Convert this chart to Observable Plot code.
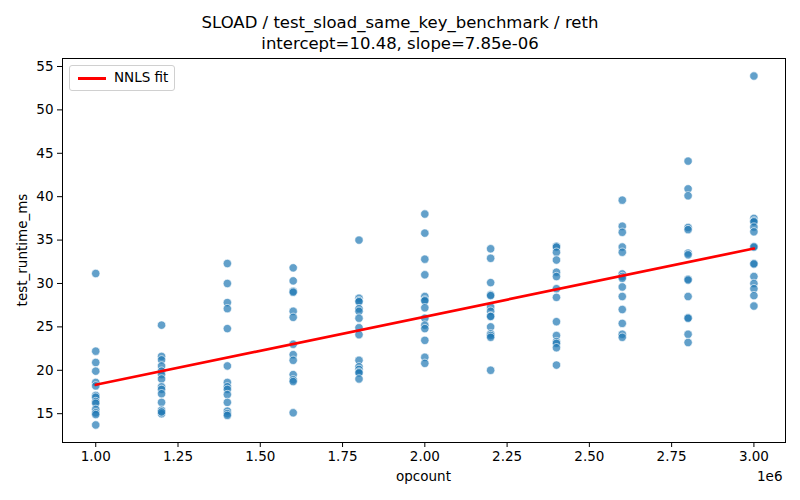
<!DOCTYPE html>
<html><head><meta charset="utf-8">
<script src="https://cdn.jsdelivr.net/npm/d3@7"></script>
<script src="https://cdn.jsdelivr.net/npm/@observablehq/plot@0.6"></script>
<style>
body{margin:0;background:#fff;font-family:"DejaVu Sans",sans-serif;}
#wrap{position:relative;width:800px;height:500px;}
#title{height:50px;text-align:center;font-size:16.5px;line-height:21px;padding-top:12px;box-sizing:border-box;color:#000;}
#legend{position:absolute;left:69px;top:65px;width:104px;height:24px;border:1px solid #d0d0d0;border-radius:3px;background:rgba(255,255,255,0.8);font-size:13.5px;}
#legend .ln{position:absolute;left:8px;top:11px;width:28px;height:2.7px;background:red;}
#legend .tx{position:absolute;left:44px;top:3px;}
#offset{position:absolute;left:757px;top:468px;font-size:13.5px;}
#xlab{position:absolute;left:0;width:847px;text-align:center;top:468px;font-size:13.5px;}
#ylab{position:absolute;left:22px;top:250px;font-size:13.5px;transform:translate(-50%,-50%) rotate(-90deg);white-space:nowrap;}
</style></head>
<body><div id="wrap">
<div id="title"><div>SLOAD / test_sload_same_key_benchmark / reth</div><div>intercept=10.48, slope=7.85e-06</div></div>
<div id="chart"></div>
<div id="legend"><div class="ln"></div><div class="tx">NNLS fit</div></div>
<div id="offset">1e6</div>
<div id="xlab">opcount</div>
<div id="ylab">test_runtime_ms</div>
</div>
<script>
const opcounts = [1000000,1200000,1400000,1600000,1800000,2000000,2200000,2400000,2600000,2800000,3000000];
const runtimeByOpcount = [
  [31.15,22.2,20.9,19.9,18.6,18.2,17.1,16.9,16.4,16.2,15.5,15.1,14.9,13.7],
  [25.2,21.6,21.2,20.5,19.9,19.5,19.0,18.1,17.8,17.3,16.3,15.4,15.0,15.2],
  [32.3,30.0,27.8,27.1,24.8,20.5,18.6,18.1,17.8,17.2,16.3,15.3,15.0,14.8],
  [31.8,30.3,29.1,29.0,26.8,26.1,23.0,21.8,21.15,19.5,18.9,18.7,15.1],
  [35.0,28.3,28.0,27.9,27.1,26.8,26.0,24.9,24.1,21.15,20.4,20.1,19.8,19.7,19.0],
  [38.0,35.8,32.8,31.0,28.5,28.1,28.0,27.2,26.0,25.2,24.8,23.45,21.5,20.8],
  [34.0,32.9,30.1,28.7,28.6,27.3,26.8,26.25,26.2,25.0,24.2,24.0,23.8,20.0],
  [34.3,34.2,33.6,32.7,31.3,30.8,29.4,28.4,25.6,24.0,23.3,23.1,22.6,20.6],
  [39.6,36.6,35.9,34.2,33.6,31.1,30.8,30.6,29.6,28.5,27.0,25.4,24.15,23.8],
  [44.1,40.9,40.1,36.45,36.2,33.5,33.3,30.5,30.4,28.5,26.05,26.0,24.15,23.2],
  [53.9,37.5,37.2,37.1,36.5,35.95,34.25,34.2,32.3,32.25,30.8,30.0,29.4,28.6,27.4]
];
const intercept = 10.48;
const slope = 7.85e-6;
const fitOpcount = [1000000, 3000000];
const xTicks = [1000000,1250000,1500000,1750000,2000000,2250000,2500000,2750000,3000000];
const yTicks = [15,20,25,30,35,40,45,50,55];

const points = opcounts.flatMap((x,i)=>runtimeByOpcount[i].map(y=>({x,y})));
const fit = fitOpcount.map(x=>({x, y: intercept + slope*x}));

const chart = Plot.plot({
  width: 800, height: 450,
  marginTop: 8, marginBottom: 58, marginLeft: 62, marginRight: 15,
  style: {fontFamily: "DejaVu Sans, sans-serif", fontSize: "13.5px", color: "#000", background: "#fff"},
  x: {domain: [899000, 3096000], ticks: xTicks, tickFormat: d => (d/1e6).toFixed(2), tickSize: 5, tickPadding: 4, label: null},
  y: {domain: [11.68, 55.92], ticks: yTicks, tickSize: 5, tickPadding: 4, label: null},
  marks: [
    Plot.dot(points, {x: "x", y: "y", r: 4.2, fill: "#1f77b4", fillOpacity: 0.7, stroke: "white", strokeWidth: 0.8, strokeOpacity: 0.8}),
    Plot.line(fit, {x: "x", y: "y", stroke: "red", strokeWidth: 2.7}),
    Plot.frame({stroke: "#000", strokeWidth: 1})
  ]
});
document.getElementById("chart").appendChild(chart);
</script>
</body></html>
